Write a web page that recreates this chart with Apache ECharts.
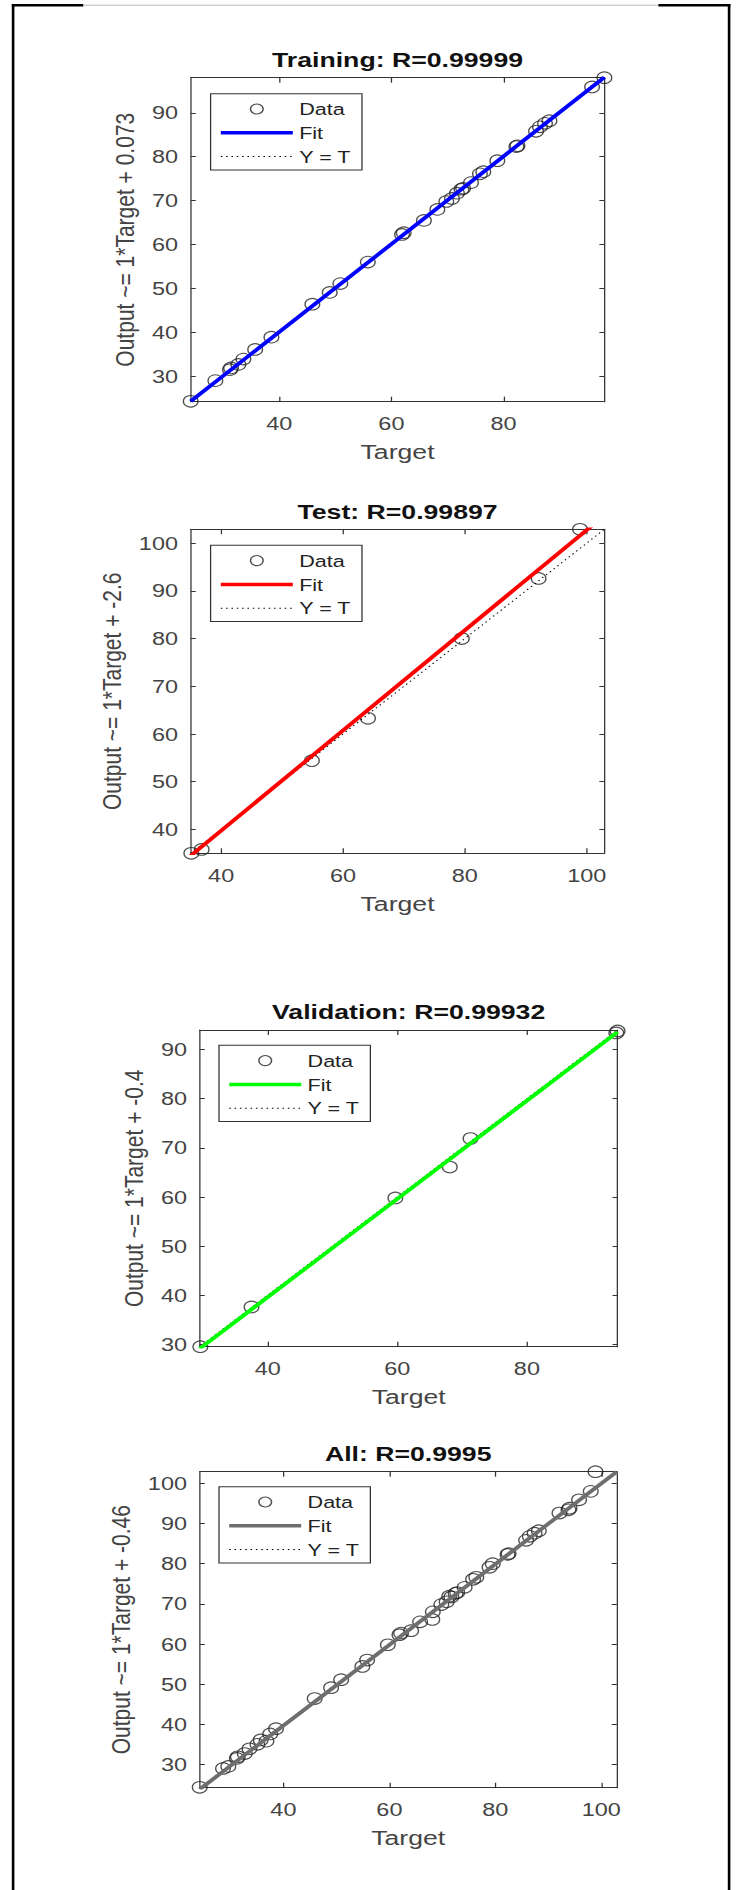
<!DOCTYPE html>
<html>
<head>
<meta charset="utf-8">
<title>Regression plots</title>
<script src="https://cdn.jsdelivr.net/npm/echarts@6/dist/echarts.min.js"></script>
<style>
  html, body { margin: 0; padding: 0; background: #fff; overflow: hidden; }
  /* the source figure is stretched sideways, so draw narrow and widen it */
  #main { width: 580px; height: 1890px; transform: scaleX(1.268966); transform-origin: 0 0; }
</style>
</head>
<body>
<div id="main"></div>
<script>
// targets and network outputs
var trainTarget = [24.2, 28.6, 31.2, 31.4, 32.7, 33.6, 35.7, 38.6, 45.9, 49.0, 50.9, 55.8, 61.9, 62.2, 65.8, 68.2, 69.8, 70.8, 71.7, 72.5, 72.8, 74.2, 75.8, 76.4, 78.9, 82.3, 82.5, 85.8, 86.5, 87.4, 88.2, 95.8, 98.0];
var trainOutput = [24.3, 29.0, 31.5, 31.9, 32.7, 33.9, 36.1, 38.9, 46.4, 49.1, 51.1, 56.0, 62.3, 62.7, 65.5, 68.0, 69.8, 70.5, 71.7, 72.6, 72.8, 74.1, 76.1, 76.6, 79.1, 82.3, 82.5, 85.8, 86.8, 87.6, 88.2, 95.9, 98.0];
var testTarget = [35.1, 36.8, 54.9, 64.1, 79.5, 92.1, 98.9];
var testOutput = [35.0, 35.8, 54.4, 63.3, 80.0, 92.6, 102.9];
var valTarget = [29.6, 37.5, 59.7, 68.1, 71.3, 93.8, 94.0];
var valOutput = [29.5, 37.6, 59.8, 66.1, 71.9, 93.4, 93.8];
var allTarget = trainTarget.concat(testTarget, valTarget);
var allOutput = trainOutput.concat(testOutput, valOutput);

// fit lines, two end points [target, output]
var trainFit = [[24.2, 24.3], [98.0, 98.1]];
var testFit = [[35.0, 34.5], [102.9, 105.8]];
var valFit = [[29.5, 29.1], [94.0, 93.6]];
var allFit = [[24.2, 23.8], [102.9, 102.9]];

// tick labels
var xTicksShort = [40, 60, 80];
var xTicksLong = [40, 60, 80, 100];
var trainYTicks = [30, 40, 50, 60, 70, 80, 90];
var testYTicks = [40, 50, 60, 70, 80, 90, 100];
var valYTicks = [30, 40, 50, 60, 70, 80, 90];
var allYTicks = [30, 40, 50, 60, 70, 80, 90, 100];

var S = 736 / 580;
function px(v) { return v / S; }
var FONT = '"Liberation Sans", Arial, sans-serif';
var INK = '#333';
var LABEL = '#444';

var panels = [
    {title: 'Training: R=0.99999', ylabel: 'Output ~= 1*Target + 0.073', t: trainTarget, y: trainOutput, fit: trainFit,
     xt: xTicksShort, yt: trainYTicks, color: '#0000ff', rect: [190.7, 77.7, 413.7, 324], leg: [210.6, 93.7], titleY: 59.3, nameX: 127.8},
    {title: 'Test: R=0.99897', ylabel: 'Output ~= 1*Target + -2.6', t: testTarget, y: testOutput, fit: testFit,
     xt: xTicksLong, yt: testYTicks, color: '#ff0000', rect: [190.7, 529.3, 413.7, 324], leg: [210.6, 545.3], titleY: 511.7, nameX: 112},
    {title: 'Validation: R=0.99932', ylabel: 'Output ~= 1*Target + -0.4', t: valTarget, y: valOutput, fit: valFit,
     xt: xTicksShort, yt: valYTicks, color: '#00ff00', rect: [199.7, 1030, 417.9, 316.7], leg: [219, 1045.3], titleY: 1011.7, nameX: 137},
    {title: 'All: R=0.9995', ylabel: 'Output ~= 1*Target + -0.46', t: allTarget, y: allOutput, fit: allFit,
     xt: xTicksLong, yt: allYTicks, color: '#6e6e6e', rect: [199.7, 1471.7, 417, 316], leg: [219, 1486.7], titleY: 1453.3, nameX: 120.7}
];

// outer frame of the figure
var frame = [
    {type: 'rect', shape: {x: px(11.8), y: 4, width: px(2.6), height: 1886}, style: {fill: '#000'}},
    {type: 'rect', shape: {x: px(727.8), y: 4, width: px(2.6), height: 1886}, style: {fill: '#000'}},
    {type: 'rect', shape: {x: px(11.8), y: 4, width: px(83.3 - 11.8), height: 2.5}, style: {fill: '#000'}},
    {type: 'rect', shape: {x: px(658.3), y: 4, width: px(730.4 - 658.3), height: 2.5}, style: {fill: '#000'}},
    {type: 'rect', shape: {x: px(83.3), y: 4.8, width: px(658.3 - 83.3), height: 1}, style: {fill: '#bbb'}}
];

var option = {
    animation: false,
    backgroundColor: '#fff',
    textStyle: {fontFamily: FONT},
    title: [], grid: [], xAxis: [], yAxis: [], legend: [], series: [],
    graphic: frame
};

var hidden = {color: 'rgba(0,0,0,0)', borderColor: 'rgba(0,0,0,0)', borderWidth: 0, opacity: 0};

panels.forEach(function (p, i) {
    var both = p.t.concat(p.y);
    var lo = Math.min.apply(null, both);
    var hi = Math.max.apply(null, both);
    var r = p.rect;

    option.grid.push({left: px(r[0]), top: r[1], width: px(r[2]), height: r[3]});
    option.title.push({
        text: p.title, left: px(r[0] + r[2] / 2), top: p.titleY - 10.5, textAlign: 'center', padding: 0,
        textStyle: {fontSize: 21, fontWeight: 'bold', color: '#111', fontFamily: FONT}
    });

    var line = {show: true, onZero: false, lineStyle: {color: INK, width: 1}};
    // bottom and top x axes
    option.xAxis.push({
        gridIndex: i, type: 'value', min: lo, max: hi, position: 'bottom',
        name: 'Target', nameLocation: 'middle', nameGap: 39.5,
        nameTextStyle: {fontSize: 21, color: LABEL, fontFamily: FONT},
        axisLine: line,
        axisTick: {show: true, inside: true, length: 5, customValues: p.xt, lineStyle: {color: INK}},
        axisLabel: {margin: 12.5, customValues: p.xt, fontSize: 18.5, color: LABEL, fontFamily: FONT},
        splitLine: {show: false}
    });
    option.xAxis.push({
        gridIndex: i, type: 'value', min: lo, max: hi, position: 'top',
        axisLine: line,
        axisTick: {show: true, inside: true, length: 5, customValues: p.xt, lineStyle: {color: INK}},
        axisLabel: {show: false}, splitLine: {show: false}
    });
    // left and right y axes
    option.yAxis.push({
        gridIndex: i, type: 'value', min: lo, max: hi, position: 'left',
        name: p.ylabel, nameLocation: 'middle', nameRotate: 90, nameGap: (r[0] - p.nameX) / S - 10.5,
        nameTextStyle: {fontSize: 21, color: LABEL, fontFamily: FONT},
        axisLine: line,
        axisTick: {show: true, inside: true, length: 4, customValues: p.yt, lineStyle: {color: INK}},
        axisLabel: {margin: 10, customValues: p.yt, fontSize: 18.5, color: LABEL, fontFamily: FONT},
        splitLine: {show: false}
    });
    option.yAxis.push({
        gridIndex: i, type: 'value', min: lo, max: hi, position: 'right',
        axisLine: line,
        axisTick: {show: true, inside: true, length: 4, customValues: p.yt, lineStyle: {color: INK}},
        axisLabel: {show: false}, splitLine: {show: false}
    });

    // drawing order: Y = T underneath, then the data, fit line on top
    option.series.push({
        name: 'Y = T#' + i, type: 'line', xAxisIndex: 2 * i, yAxisIndex: 2 * i,
        data: [[lo, lo], [hi, hi]], symbol: 'none', clip: true,
        lineStyle: {color: '#000', width: 1, type: [1.2, 3]}
    });
    var pts = p.t.map(function (v, k) { return [v, p.y[k]]; });
    option.series.push({
        name: 'Data#' + i, type: 'scatter', xAxisIndex: 2 * i, yAxisIndex: 2 * i,
        data: pts, symbol: 'circle', symbolSize: 11.5, clip: false,
        itemStyle: {color: 'rgba(0,0,0,0)', borderColor: '#222', borderWidth: 1.1}
    });
    option.series.push({
        name: 'Fit#' + i, type: 'line', xAxisIndex: 2 * i, yAxisIndex: 2 * i,
        data: p.fit, symbol: 'none', clip: true,
        lineStyle: {color: p.color, width: 3.5}
    });

    option.legend.push({
        left: px(p.leg[0]), top: p.leg[1], orient: 'vertical', align: 'left',
        itemWidth: px(72), itemHeight: 10, itemGap: 6.8,
        padding: [6.8, 8.4, 4.8, px(8)],
        backgroundColor: '#fff', borderColor: INK, borderWidth: 1, borderRadius: 0,
        selectedMode: false,
        textStyle: {fontSize: 17, color: '#222', fontFamily: FONT},
        formatter: function (n) { return n.split('#')[0]; },
        lineStyle: {width: 'inherit'},
        data: [
            {name: 'Data#' + i, icon: 'circle', itemStyle: {color: 'rgba(0,0,0,0)', borderColor: '#222', borderWidth: 1.1}},
            {name: 'Fit#' + i, itemStyle: hidden},
            {name: 'Y = T#' + i, itemStyle: hidden}
        ]
    });
});

var myChart = echarts.init(document.getElementById('main'), null, {renderer: 'svg'});
myChart.setOption(option);
</script>
</body>
</html>
